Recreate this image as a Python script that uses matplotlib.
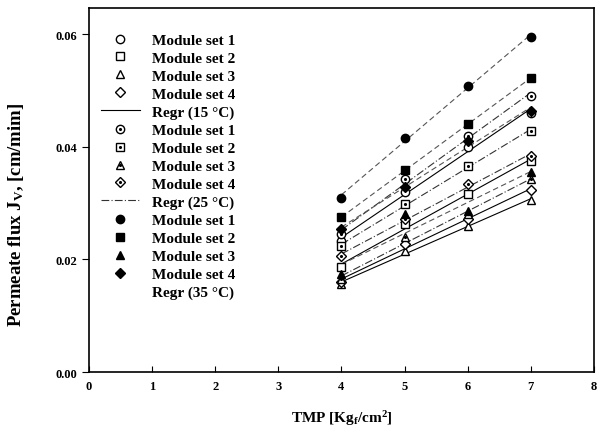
import matplotlib
matplotlib.use("Agg")
import matplotlib.pyplot as plt
from matplotlib.legend_handler import HandlerTuple
import numpy as np

plt.rcParams['font.family'] = ['Liberation Serif', 'DejaVu Serif']
plt.rcParams['font.weight'] = 'bold'
plt.rcParams['axes.labelweight'] = 'bold'
plt.rcParams['mathtext.fontset'] = 'custom'
plt.rcParams['mathtext.rm'] = 'Liberation Serif:bold'
plt.rcParams['mathtext.bf'] = 'Liberation Serif:bold'
plt.rcParams['mathtext.default'] = 'bf'

# TMP values
tmp = [4, 5, 6, 7]

# permeate flux, 15 C (open markers)
t15_set1 = [0.0233, 0.0320, 0.0400, 0.0460]
t15_set2 = [0.0186, 0.0263, 0.0316, 0.0375]
t15_set3 = [0.0156, 0.0215, 0.0260, 0.0305]
t15_set4 = [0.0160, 0.0227, 0.0272, 0.0323]
# 25 C (dotted markers)
t25_set1 = [0.0245, 0.0343, 0.0419, 0.0490]
t25_set2 = [0.0224, 0.0298, 0.0366, 0.0428]
t25_set3 = [0.0165, 0.0240, 0.0280, 0.0343]
t25_set4 = [0.0206, 0.0272, 0.0334, 0.0383]
# 35 C (filled markers)
t35_set1 = [0.0310, 0.0415, 0.0508, 0.0595]
t35_set2 = [0.0275, 0.0358, 0.0440, 0.0522]
t35_set3 = [0.0174, 0.0280, 0.0286, 0.0355]
t35_set4 = [0.0254, 0.0328, 0.0410, 0.0463]

labels = ['Module set 1', 'Module set 2', 'Module set 3', 'Module set 4']
markers = ['o', 's', '^', 'D']
msizes = [6, 5.5, 6, 5]

fig = plt.figure(figsize=(5.98, 4.39), dpi=100)
ax = fig.add_axes([0.149, 0.150, 0.844, 0.829])

x = np.array(tmp)
groups = [
    ([t15_set1, t15_set2, t15_set3, t15_set4], 'open', '-', '#000000', 'Regr (15 \u00b0C)'),
    ([t25_set1, t25_set2, t25_set3, t25_set4], 'dot', (0, (7, 2, 1, 2)), '#333333', 'Regr (25 \u00b0C)'),
    ([t35_set1, t35_set2, t35_set3, t35_set4], 'filled', (0, (5, 3)), '#555555', 'Regr (35 \u00b0C)'),
]

handles = []
texts = []
for series, style, ls, lc, rlabel in groups:
    for y, lab, m, ms in zip(series, labels, markers, msizes):
        p = np.polyfit(x, y, 1)
        ax.plot(x, np.polyval(p, x), ls=ls, color=lc, lw=0.8, zorder=2)
        if style == 'filled':
            h, = ax.plot(x, y, m, ms=ms, mfc='black', mec='black', zorder=3)
            handles.append(h)
        else:
            h, = ax.plot(x, y, m, ms=ms, mfc='white', mec='black', mew=1.0, zorder=3)
            if style == 'dot':
                d, = ax.plot(x, y, '.', ms=2.5, color='black', zorder=4)
                handles.append((h, d))
            else:
                handles.append(h)
        texts.append(lab)
    rl, = ax.plot([], [], ls=ls, color=lc if style != 'filled' else 'white', lw=0.8)
    handles.append(rl)
    texts.append(rlabel)

ax.legend(handles, texts, loc='upper left', bbox_to_anchor=(0.0, 0.965), frameon=False,
          prop={'size': 11, 'weight': 'bold'}, handlelength=2.5, handletextpad=0.8,
          labelspacing=0.28, borderpad=0.3,
          handler_map={tuple: HandlerTuple(ndivide=1, pad=0)})

ax.set_xlim(0, 8)
ax.set_ylim(0, 0.0646)
ax.set_xticks(range(0, 9))
ax.set_yticks([0.00, 0.02, 0.04, 0.06])
ax.set_yticklabels(['0.00', '0.02', '0.04', '0.06'])
ax.tick_params(axis='x', direction='in', length=4, labelsize=9, pad=6)
ax.tick_params(axis='y', direction='out', length=5, labelsize=9)
for s in ax.spines.values():
    s.set_linewidth(1.2)

ax.set_xlabel('TMP [Kg$_f$/cm$^2$]', fontsize=11, fontweight='bold')
ax.set_ylabel('Permeate flux J$_V$, [cm/mim]', fontsize=13.5, fontweight='bold')
ax.xaxis.set_label_coords(0.5, -0.10)
ax.yaxis.set_label_coords(-0.125, 0.434)

plt.savefig('out.png', dpi=100)
